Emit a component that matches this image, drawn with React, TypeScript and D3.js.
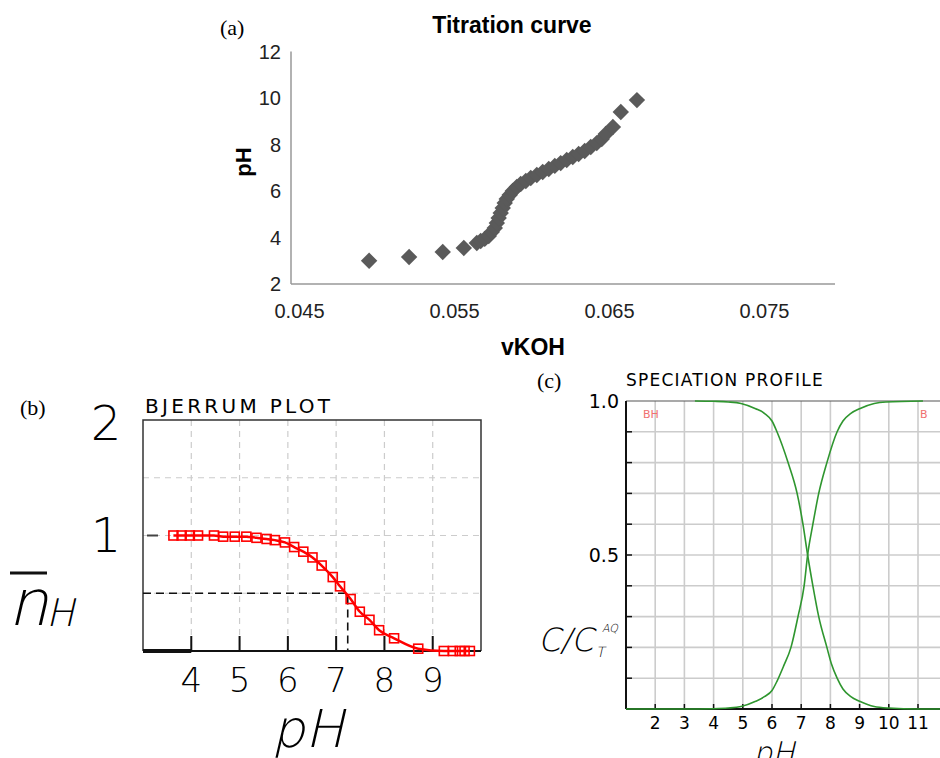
import * as d3 from "d3";

// (a) titration curve: volume of KOH vs pH
const titrVol = [
  0.04949, 0.05207, 0.05424, 0.0556, 0.05644, 0.05669, 0.05695, 0.05721, 0.0574, 0.0576,
  0.05773, 0.05785, 0.05798, 0.05811, 0.05824, 0.05837, 0.05856, 0.05876, 0.05902, 0.05927,
  0.0596, 0.05992, 0.06031, 0.06069, 0.06108, 0.06147, 0.06185, 0.06224, 0.06263, 0.06301,
  0.0634, 0.06379, 0.06418, 0.0645, 0.06476, 0.06522, 0.06573, 0.06677,
];
const titrPH = [
  3.0, 3.16, 3.38, 3.55, 3.76, 3.85, 3.94, 4.06, 4.24, 4.41,
  4.62, 4.84, 5.05, 5.27, 5.48, 5.66, 5.83, 6.0, 6.17, 6.3,
  6.43, 6.56, 6.69, 6.82, 6.95, 7.08, 7.2, 7.33, 7.46, 7.59,
  7.72, 7.89, 8.06, 8.24, 8.45, 8.75, 9.4, 9.91,
];
const volTicks = [0.045, 0.055, 0.065, 0.075];
const phTicksA = [2, 4, 6, 8, 10, 12];

// (b) Bjerrum plot
const bjPH = [
  3.63, 3.8, 3.97, 4.14, 4.47, 4.66, 4.9, 5.14, 5.35, 5.56, 5.73, 5.94, 6.13, 6.32, 6.51,
  6.7, 6.93, 7.08, 7.3, 7.49, 7.69, 7.89, 8.2, 8.7, 9.23, 9.42, 9.56, 9.66, 9.77,
];
const bjN = [
  1.0, 1.0, 1.0, 1.0, 1.0, 0.99, 0.99, 0.99, 0.98, 0.97, 0.96, 0.94, 0.9, 0.86, 0.81,
  0.74, 0.64, 0.56, 0.45, 0.34, 0.27, 0.18, 0.11, 0.02, 0, 0, 0, 0, 0,
];
const bjXTicks = [4, 5, 6, 7, 8, 9];
const bjGridY = [0.5, 1, 1.5];
const pKa = 7.24;

// (c) speciation profile
const bhPH = [3.36, 4.0, 4.5, 4.94, 5.44, 5.74, 6.0, 6.17, 6.55, 6.86, 7.06, 7.22, 7.4, 7.6, 7.88, 8.04, 8.23, 8.43, 8.7, 9.0, 9.5, 10.0, 11.0, 12.2];
const bhFrac = [1.0, 0.999, 0.997, 0.992, 0.975, 0.96, 0.935, 0.9, 0.8, 0.7, 0.6, 0.5, 0.4, 0.3, 0.2, 0.145, 0.1, 0.065, 0.04, 0.025, 0.008, 0.003, 0, 0];
const bPH = [1.0, 3.0, 4.0, 4.5, 4.94, 5.44, 5.74, 6.0, 6.17, 6.4, 6.65, 6.89, 7.1, 7.22, 7.4, 7.6, 7.88, 8.23, 8.43, 8.7, 9.0, 9.5, 9.9, 11.17];
const bFrac = [0, 0, 0.001, 0.003, 0.008, 0.025, 0.04, 0.06, 0.09, 0.14, 0.2, 0.3, 0.4, 0.5, 0.6, 0.7, 0.8, 0.9, 0.935, 0.96, 0.975, 0.992, 0.997, 1.0];
const specXTicks = [2, 3, 4, 5, 6, 7, 8, 9, 10, 11];
const specGridY = [0.1, 0.2, 0.3, 0.4, 0.5, 0.6, 0.7, 0.8, 0.9];

const thin = "'DejaVu Sans', sans-serif";
const arial = "'Liberation Sans', Arial, sans-serif";
const serif = "'Liberation Serif', 'Times New Roman', serif";

// thin stroke-font look, slanted by hand (the light face has no italic)
function Slanted({ x, y, size, children, anchor = "start" }: any) {
  return (
    <text
      transform={`translate(${x},${y}) skewX(-13)`}
      fontFamily={thin}
      fontSize={size}
      fontWeight={200}
      textAnchor={anchor}
    >
      {children}
    </text>
  );
}

export default function App() {
  // panel a
  const xA = d3.scaleLinear().domain([0.04445, 0.07955]).range([291, 835]);
  const yA = d3.scaleLinear().domain([2, 12]).range([284, 51.5]);
  const diamond = d3.symbol(d3.symbolSquare, 135)();

  // panel b
  const xB = d3.scaleLinear().domain([3, 10]).range([143, 481]);
  const yB = d3.scaleLinear().domain([0, 2]).range([651, 420]);
  const bjLine = d3
    .line<number>()
    .x((d, i) => xB(bjPH[i]))
    .y(d => yB(d))
    .curve(d3.curveMonotoneX);

  // panel c
  const xC = d3.scaleLinear().domain([1, 12]).range([626, 947.2]);
  const yC = d3.scaleLinear().domain([0, 1]).range([709, 401]);
  const bhLine = d3
    .line<number>()
    .x((d, i) => xC(bhPH[i]))
    .y(d => yC(d))
    .curve(d3.curveMonotoneX);
  const bLine = d3
    .line<number>()
    .x((d, i) => xC(bPH[i]))
    .y(d => yC(d))
    .curve(d3.curveMonotoneX);

  return (
    <svg
      width={940}
      height={758}
      style={{ position: "absolute", left: 0, top: 0, background: "#fff" }}
    >
      {/* ---------- (a) ---------- */}
      <text x={220} y={35} fontFamily={serif} fontSize={22}>(a)</text>
      <text x={512} y={33} fontFamily={arial} fontSize={23} fontWeight="bold" textAnchor="middle">
        Titration curve
      </text>
      <line x1={291} x2={291} y1={yA(12)} y2={yA(2)} stroke="#999" strokeWidth={1.5} />
      <line x1={291} x2={835} y1={yA(2)} y2={yA(2)} stroke="#999" strokeWidth={1.5} />
      {phTicksA.map(t => (
        <text key={t} x={281} y={yA(t) + 7} fontFamily={arial} fontSize={20} textAnchor="end" fill="#222">
          {t}
        </text>
      ))}
      {volTicks.map(t => (
        <text key={t} x={xA(t)} y={318} fontFamily={arial} fontSize={20} textAnchor="middle" fill="#222">
          {t.toFixed(3)}
        </text>
      ))}
      <text
        transform="translate(251,162) rotate(-90)"
        fontFamily={arial}
        fontSize={22}
        fontWeight="bold"
        textAnchor="middle"
      >
        pH
      </text>
      <text x={533} y={355} fontFamily={arial} fontSize={23} fontWeight="bold" textAnchor="middle">
        vKOH
      </text>
      {titrVol.map((v, i) => (
        <path
          key={i}
          d={diamond}
          transform={`translate(${xA(v)},${yA(titrPH[i])}) rotate(45)`}
          fill="#5a5a5a"
        />
      ))}

      {/* ---------- (b) ---------- */}
      <text x={20} y={415} fontFamily={serif} fontSize={22}>(b)</text>
      <text x={145} y={413} fontFamily={thin} fontSize={20} letterSpacing={3.3}>
        BJERRUM PLOT
      </text>
      {bjXTicks.map(t => (
        <line key={t} x1={xB(t)} x2={xB(t)} y1={yB(2)} y2={yB(0)} stroke="#ccc" strokeWidth={1.2} strokeDasharray="6,5" />
      ))}
      {bjGridY.map(t => (
        <line key={t} x1={xB(3)} x2={xB(10)} y1={yB(t)} y2={yB(t)} stroke="#ccc" strokeWidth={1.2} strokeDasharray="6,5" />
      ))}
      <path
        d={`M${xB(3)},${yB(0)}V${yB(2)}H${xB(10)}V${yB(0)}`}
        fill="none"
        stroke="#333"
        strokeWidth={1.5}
      />
      <line x1={xB(3)} x2={xB(10)} y1={yB(0)} y2={yB(0)} stroke="#111" strokeWidth={2} />
      <line x1={xB(3)} x2={xB(4)} y1={yB(0)} y2={yB(0)} stroke="#111" strokeWidth={4} />
      {bjXTicks.map(t => (
        <line key={t} x1={xB(t)} x2={xB(t)} y1={yB(0)} y2={yB(0) - 15} stroke="#111" strokeWidth={2} />
      ))}
      <line x1={xB(3) + 4} x2={xB(3) + 15} y1={yB(1)} y2={yB(1)} stroke="#444" strokeWidth={2} />
      <path
        d={`M${xB(3)},${yB(0.5)}H${xB(pKa)}V${yB(0)}`}
        fill="none"
        stroke="#111"
        strokeWidth={1.6}
        strokeDasharray="8,5"
      />
      <path d={bjLine(bjN) || ""} fill="none" stroke="#ff0000" strokeWidth={2.5} />
      {bjN.map((n, i) => (
        <rect
          key={i}
          x={xB(bjPH[i]) - 4.5}
          y={yB(n) - 4.5}
          width={9}
          height={9}
          fill="none"
          stroke="#ff0000"
          strokeWidth={1.6}
        />
      ))}
      <text x={106} y={440} fontFamily={thin} fontSize={48} fontWeight={200} textAnchor="middle">2</text>
      <text x={106} y={552} fontFamily={thin} fontSize={48} fontWeight={200} textAnchor="middle">1</text>
      {bjXTicks.map(t => (
        <text key={t} x={xB(t)} y={692} fontFamily={thin} fontSize={34} fontWeight={200} textAnchor="middle">
          {t}
        </text>
      ))}
      <Slanted x={308} y={747} size={52} anchor="middle">pH</Slanted>
      <line x1={10} x2={47} y1={573} y2={573} stroke="#111" strokeWidth={3} />
      <Slanted x={8} y={625} size={64}>n</Slanted>
      <Slanted x={46} y={626} size={38}>H</Slanted>

      {/* ---------- (c) ---------- */}
      <text x={537} y={388} fontFamily={serif} fontSize={22}>(c)</text>
      <text x={626} y={386} fontFamily={thin} fontSize={17} letterSpacing={1.2}>
        SPECIATION PROFILE
      </text>
      {specXTicks.concat([12]).map(t => (
        <line key={t} x1={xC(t)} x2={xC(t)} y1={yC(1)} y2={yC(0)} stroke="#ccc" strokeWidth={1.6} />
      ))}
      {specGridY.map(t => (
        <line key={t} x1={xC(1)} x2={940} y1={yC(t)} y2={yC(t)} stroke="#ccc" strokeWidth={1.6} />
      ))}
      <line x1={xC(1)} x2={940} y1={yC(1)} y2={yC(1)} stroke="#555" strokeWidth={1.2} />
      <line x1={xC(1)} x2={xC(1)} y1={yC(1)} y2={yC(0)} stroke="#111" strokeWidth={2} />
      <line x1={xC(1)} x2={940} y1={yC(0)} y2={yC(0)} stroke="#111" strokeWidth={2} />
      {specGridY.map(t => (
        <line key={t} x1={xC(1)} x2={xC(1) + 6} y1={yC(t)} y2={yC(t)} stroke="#111" strokeWidth={1.5} />
      ))}
      {specXTicks.map(t => (
        <line key={t} x1={xC(t)} x2={xC(t)} y1={yC(0)} y2={yC(0) - 5} stroke="#111" strokeWidth={1.5} />
      ))}
      <path d={bhLine(bhFrac) || ""} fill="none" stroke="#2f962f" strokeWidth={1.6} />
      <path d={bLine(bFrac) || ""} fill="none" stroke="#2f962f" strokeWidth={1.6} />
      <text x={xC(1.85)} y={418} fontFamily={thin} fontSize={11} fill="#f07070" textAnchor="middle">BH</text>
      <text x={xC(11.2)} y={418} fontFamily={thin} fontSize={11} fill="#f07070" textAnchor="middle">B</text>
      <text x={619} y={yC(1) + 7} fontFamily={thin} fontSize={19} textAnchor="end">1.0</text>
      <text x={619} y={yC(0.5) + 7} fontFamily={thin} fontSize={19} textAnchor="end">0.5</text>
      {specXTicks.map(t => (
        <text key={t} x={xC(t)} y={729} fontFamily={thin} fontSize={17} textAnchor="middle">
          {t}
        </text>
      ))}
      <Slanted x={774} y={763} size={30} anchor="middle">pH</Slanted>
      <Slanted x={538} y={651} size={32}>C/C</Slanted>
      <Slanted x={596} y={657} size={14}>T</Slanted>
      <Slanted x={602} y={632} size={11}>AQ</Slanted>
    </svg>
  );
}
